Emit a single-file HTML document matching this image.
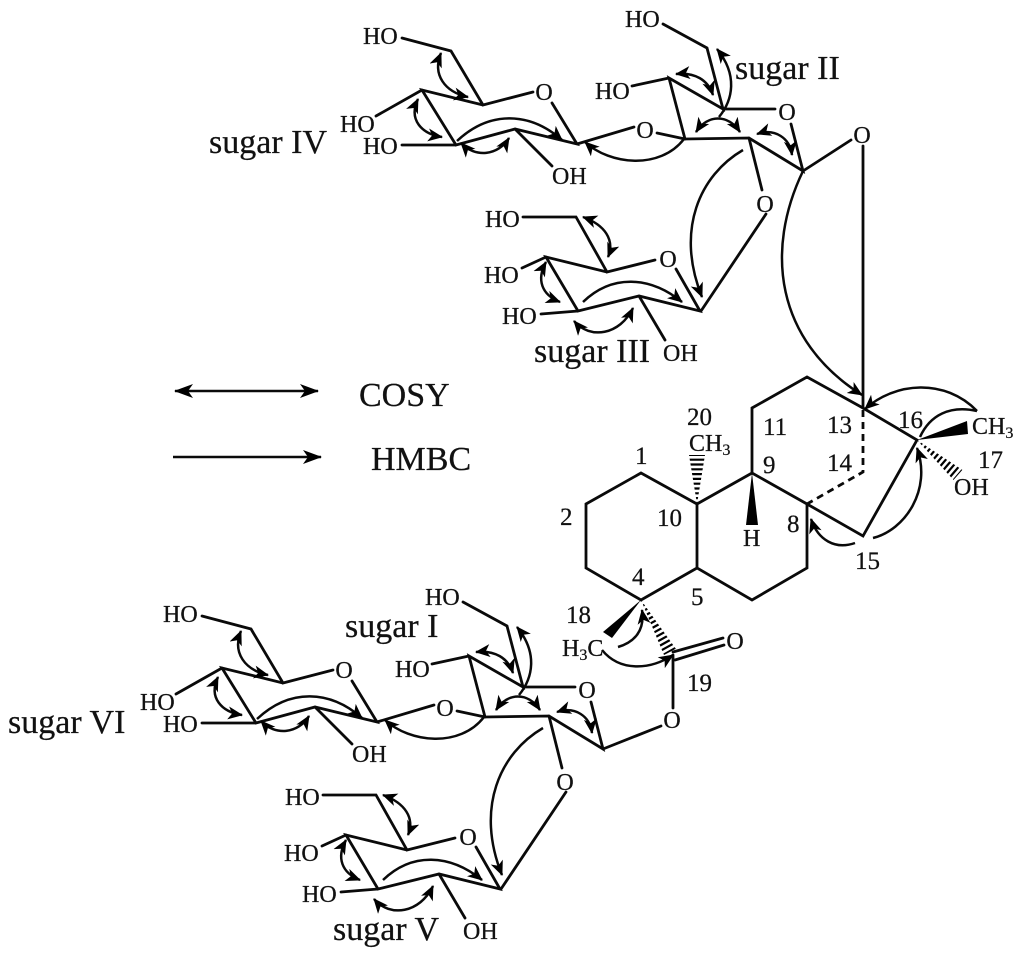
<!DOCTYPE html>
<html>
<head>
<meta charset="utf-8">
<style>
html,body{margin:0;padding:0;background:#fff;}
svg{display:block;}
text{font-family:"Liberation Serif",serif;fill:#111;stroke:#111;stroke-width:0.25;}
.a{font-size:24px;}
.n{font-size:25px;}
.s{font-size:34px;}
.b{fill:none;stroke:#0a0a0a;stroke-width:2.8;stroke-linejoin:miter;stroke-linecap:round;}
.c{fill:none;stroke:#0a0a0a;stroke-width:2.5;stroke-linecap:butt;}
.w{fill:#000;stroke:none;}
</style>
</head>
<body>
<svg xmlns="http://www.w3.org/2000/svg" width="1024" height="959" viewBox="0 0 1024 959">
<defs>
<marker id="h" markerUnits="userSpaceOnUse" markerWidth="18" markerHeight="14" refX="14" refY="6.5" orient="auto-start-reverse">
<path d="M0,0 L15,6.5 L0,13 L4,6.5 Z" fill="#000"/>
</marker>
<marker id="L" markerUnits="userSpaceOnUse" markerWidth="22" markerHeight="16" refX="18" refY="7" orient="auto-start-reverse">
<path d="M0,0 L19,7 L0,14 L5,7 Z" fill="#000"/>
</marker>
<clipPath id="k1"><polygon points="697,504 689,455 705,455"/></clipPath>
<clipPath id="k2"><polygon points="917,440 953.5,480 962.5,470"/></clipPath>
<clipPath id="k3"><polygon points="641,600 676,649 664,655"/></clipPath>
</defs>

<!-- legend -->
<line class="c" x1="175" y1="391" x2="318" y2="391" marker-start="url(#L)" marker-end="url(#L)"/>
<line class="c" x1="173" y1="457" x2="321" y2="457" marker-end="url(#L)"/>
<text class="s" x="359" y="406">COSY</text>
<text class="s" x="371" y="470">HMBC</text>

<!-- upper sugars bonds -->
<path class="b" d="M402,38 L451,51 L483,105 L533,92 M552,103 L577,144 L515,129 L456,145 L422,90 L483,105 M422,90 L376,116 M456,145 L402,145 M515,129 L552,166 M577,144 L634,127 M657,133 L685,139"/>
<path class="b" d="M663,24 L707,48 L723,109 L669,78 L685,139 L749,138 L803,171 L791,124 M723,109 L775,109 M632,86 L669,78 M749,138 L762,190 M803,171 L851,140 M863,146 L863,408"/>
<path class="b" d="M766,214 L701,311 M523,217 L576,217 L607,272 L655,260 M676,269 L700,311 L639,296 L578,311 L546,257 L607,272 M546,257 L522,268 M578,311 L541,314 M639,296 L665,340"/>

<!-- lower sugars bonds -->
<path class="b" d="M202,616 L251,629 L283,683 L333,670 M352,681 L377,722 L315,707 L256,723 L222,668 L283,683 M222,668 L176,694 M256,723 L202,723 M315,707 L352,744 M377,722 L434,705 M457,711 L485,717"/>
<path class="b" d="M463,602 L507,626 L523,687 L469,656 L485,717 L549,716 L603,749 L591,702 M523,687 L575,687 M432,664 L469,656 M549,716 L562,768 M603,749 L661,726"/>
<path class="b" d="M566,792 L501,889 M323,795 L376,795 L407,850 L455,838 M476,847 L500,889 L439,874 L378,889 L346,835 L407,850 M346,835 L322,846 M378,889 L341,892 M439,874 L465,918"/>

<!-- diterpene bonds -->
<path class="b" d="M863,408 L807,377 L752,408 L752,473 L697,504 L697,568 L752,600 L807,568 L807,504 L752,473 M807,504 L863,536 L917,440 L863,408 M697,504 L641,473 L586,504 L586,568 L641,600 L697,568"/>
<path class="b" style="stroke-dasharray:7 5;stroke-linecap:butt" d="M863,410 L863,472 L807,504"/>
<polygon class="w" points="752,473 746,525 758,525"/>
<polygon class="w" points="917,440 967,421 968,434"/>
<polygon class="w" points="641,600 603,632 612,638"/>
<line x1="697" y1="504" x2="697" y2="455" stroke="#000" stroke-width="18" stroke-dasharray="2.2 2.6" clip-path="url(#k1)"/>
<line x1="917" y1="440" x2="958" y2="475" stroke="#000" stroke-width="18" stroke-dasharray="2.2 2.6" clip-path="url(#k2)"/>
<line x1="641" y1="600" x2="670" y2="652" stroke="#000" stroke-width="18" stroke-dasharray="2.2 2.6" clip-path="url(#k3)"/>
<path class="b" d="M673,652 L723,638 M675,660 L724,645 M673,655 L673,708"/>

<!-- upper arrows -->
<g class="c">
<path class="c" d="M441,53 C432,75 445,92 468,97" marker-start="url(#h)" marker-end="url(#h)"/>
<path class="c" d="M418,99 C408,120 422,134 442,137" marker-start="url(#h)" marker-end="url(#h)"/>
<path class="c" d="M457,141 C490,110 530,112 562,140" marker-end="url(#h)"/>
<path class="c" d="M461,143 C475,158 498,156 509,138" marker-start="url(#h)" marker-end="url(#h)"/>
<path class="c" d="M684,139 C660,170 610,165 585,142" marker-end="url(#h)"/>
<path class="c" d="M676,74 C695,72 708,80 713,95" marker-start="url(#h)" marker-end="url(#h)"/>
<path class="c" d="M719,117 C733,100 738,75 717,49" marker-end="url(#h)"/>
<path class="c" d="M696,132 C708,114 728,114 740,132" marker-start="url(#h)" marker-end="url(#h)"/>
<path class="c" d="M757,134 C775,128 790,138 792,155" marker-start="url(#h)" marker-end="url(#h)"/>
<path class="c" d="M743,150 C700,175 675,230 702,297" marker-end="url(#h)"/>
<path class="c" d="M803,171 C765,250 775,340 862,395" marker-end="url(#h)"/>
<path class="c" d="M583,217 C605,225 615,240 608,257" marker-start="url(#h)" marker-end="url(#h)"/>
<path class="c" d="M546,262 C536,280 542,295 560,302" marker-start="url(#h)" marker-end="url(#h)"/>
<path class="c" d="M583,302 C612,274 650,276 682,302" marker-end="url(#h)"/>
<path class="c" d="M574,321 C590,340 620,335 633,308" marker-start="url(#h)" marker-end="url(#h)"/>

<!-- lower arrows -->
<path class="c" d="M241,631 C232,653 245,670 268,675" marker-start="url(#h)" marker-end="url(#h)"/>
<path class="c" d="M218,677 C208,698 222,712 242,715" marker-start="url(#h)" marker-end="url(#h)"/>
<path class="c" d="M257,719 C290,688 330,690 362,718" marker-end="url(#h)"/>
<path class="c" d="M261,721 C275,736 298,734 309,716" marker-start="url(#h)" marker-end="url(#h)"/>
<path class="c" d="M484,717 C460,748 410,743 385,720" marker-end="url(#h)"/>
<path class="c" d="M476,652 C495,650 508,658 513,673" marker-start="url(#h)" marker-end="url(#h)"/>
<path class="c" d="M519,695 C533,678 538,653 517,627" marker-end="url(#h)"/>
<path class="c" d="M496,710 C508,692 528,692 540,710" marker-start="url(#h)" marker-end="url(#h)"/>
<path class="c" d="M557,712 C575,706 590,716 592,733" marker-start="url(#h)" marker-end="url(#h)"/>
<path class="c" d="M543,728 C500,753 475,808 502,875" marker-end="url(#h)"/>
<path class="c" d="M383,795 C405,803 415,818 408,835" marker-start="url(#h)" marker-end="url(#h)"/>
<path class="c" d="M346,840 C336,858 342,873 360,880" marker-start="url(#h)" marker-end="url(#h)"/>
<path class="c" d="M383,880 C412,852 450,854 482,880" marker-end="url(#h)"/>
<path class="c" d="M374,899 C390,918 420,913 433,886" marker-start="url(#h)" marker-end="url(#h)"/>

<!-- diterpene arrows -->
<path class="c" d="M977,411 C945,378 895,382 865,409" marker-end="url(#h)"/>
<path class="c" d="M977,411 C950,405 930,415 920,437"/>
<path class="c" d="M873,538 C905,530 932,490 917,448" marker-end="url(#h)"/>
<path class="c" d="M855,543 C835,550 818,540 811,519" marker-end="url(#h)"/>
<path class="c" d="M618,647 C635,642 645,630 642,610" marker-end="url(#h)"/>
<path class="c" d="M602,650 C620,672 650,670 673,655" marker-end="url(#h)"/>
</g>

<!-- sugar labels -->
<text class="s" x="209" y="153">sugar IV</text>
<text class="s" x="735" y="79">sugar II</text>
<text class="s" x="534" y="362">sugar III</text>
<text class="s" x="345" y="637">sugar I</text>
<text class="s" x="8" y="733">sugar VI</text>
<text class="s" x="333" y="940">sugar V</text>

<!-- sugar IV -->
<text class="a" x="363" y="44">HO</text>
<text class="a" x="340" y="132">HO</text>
<text class="a" x="363" y="154">HO</text>
<text class="a" x="552" y="184">OH</text>
<text class="a" x="544" y="100" text-anchor="middle">O</text>
<text class="a" x="645" y="138" text-anchor="middle">O</text>
<!-- sugar II -->
<text class="a" x="625" y="27">HO</text>
<text class="a" x="595" y="99">HO</text>
<text class="a" x="787" y="120" text-anchor="middle">O</text>
<text class="a" x="862" y="143" text-anchor="middle">O</text>
<text class="a" x="765" y="212" text-anchor="middle">O</text>
<!-- sugar III -->
<text class="a" x="485" y="227">HO</text>
<text class="a" x="484" y="283">HO</text>
<text class="a" x="502" y="324">HO</text>
<text class="a" x="663" y="361">OH</text>
<text class="a" x="668" y="267" text-anchor="middle">O</text>
<!-- sugar VI -->
<text class="a" x="163" y="622">HO</text>
<text class="a" x="140" y="710">HO</text>
<text class="a" x="163" y="732">HO</text>
<text class="a" x="352" y="762">OH</text>
<text class="a" x="344" y="678" text-anchor="middle">O</text>
<text class="a" x="445" y="716" text-anchor="middle">O</text>
<!-- sugar I -->
<text class="a" x="425" y="605">HO</text>
<text class="a" x="395" y="677">HO</text>
<text class="a" x="587" y="698" text-anchor="middle">O</text>
<text class="a" x="565" y="790" text-anchor="middle">O</text>
<text class="a" x="672" y="728" text-anchor="middle">O</text>
<text class="a" x="735" y="649" text-anchor="middle">O</text>
<!-- sugar V -->
<text class="a" x="285" y="805">HO</text>
<text class="a" x="284" y="861">HO</text>
<text class="a" x="302" y="902">HO</text>
<text class="a" x="463" y="939">OH</text>
<text class="a" x="468" y="845" text-anchor="middle">O</text>

<!-- diterpene labels -->
<text class="n" x="687" y="425">20</text>
<text class="a" x="689" y="451">CH<tspan font-size="16" dy="4">3</tspan></text>
<text class="n" x="763" y="473">9</text>
<text class="n" x="763" y="435">11</text>
<text class="n" x="827" y="433">13</text>
<text class="n" x="827" y="471">14</text>
<text class="n" x="898" y="428">16</text>
<text class="a" x="972" y="434">CH<tspan font-size="16" dy="4">3</tspan></text>
<text class="n" x="978" y="468">17</text>
<text class="a" x="954" y="495">OH</text>
<text class="a" x="743" y="546">H</text>
<text class="n" x="787" y="532">8</text>
<text class="n" x="855" y="569">15</text>
<text class="n" x="691" y="605">5</text>
<text class="n" x="632" y="585">4</text>
<text class="n" x="566" y="623">18</text>
<text class="a" x="562" y="656">H<tspan font-size="16" dy="4">3</tspan><tspan dy="-4">C</tspan></text>
<text class="n" x="687" y="691">19</text>
<text class="n" x="657" y="526">10</text>
<text class="n" x="635" y="464">1</text>
<text class="n" x="560" y="525">2</text>
</svg>
</body>
</html>
